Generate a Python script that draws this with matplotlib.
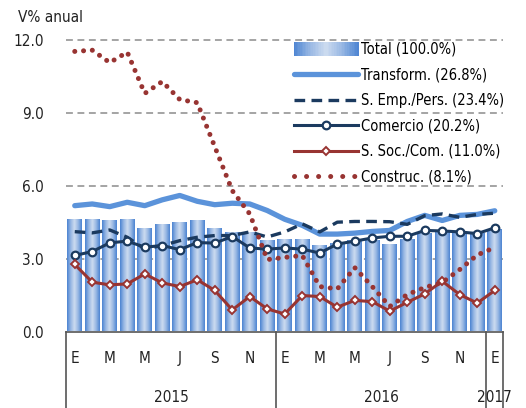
import numpy as np
import matplotlib.pyplot as plt
from matplotlib.colors import LinearSegmentedColormap
from matplotlib.lines import Line2D
from matplotlib.patches import Patch, Rectangle
from matplotlib.legend_handler import HandlerBase

plt.rcParams['font.family'] = ['DejaVu Sans']
plt.rcParams['font.stretch'] = 'condensed'

# ---- data (V% anual, Ene 2015 - Ene 2017) ----
month_labels = ['E', '', 'M', '', 'M', '', 'J', '', 'S', '', 'N', ''] * 2 + ['E']
years = ['2015', '2016', '2017']

total = [4.57, 4.57, 4.53, 4.57, 4.20, 4.40, 4.46, 4.53, 4.24, 4.06, 4.05, 3.74,
         3.78, 3.78, 3.54, 3.60, 3.74, 3.72, 3.56, 3.78, 4.01, 4.08, 4.07, 4.01, 4.16]
transform = [5.18, 5.25, 5.14, 5.32, 5.18, 5.42, 5.60, 5.36, 5.22, 5.28, 5.25, 4.98,
             4.62, 4.37, 4.01, 4.01, 4.05, 4.12, 4.16, 4.53, 4.78, 4.57, 4.78, 4.82, 4.97]
s_emp = [4.11, 4.06, 4.18, 3.88, 3.40, 3.54, 3.74, 3.88, 3.95, 3.95, 4.10, 3.89,
         4.10, 4.43, 4.10, 4.50, 4.53, 4.53, 4.52, 4.41, 4.77, 4.84, 4.70, 4.82, 4.87]
comercio = [3.13, 3.29, 3.65, 3.72, 3.47, 3.54, 3.37, 3.66, 3.64, 3.91, 3.44, 3.39,
            3.44, 3.39, 3.23, 3.60, 3.72, 3.85, 3.92, 3.92, 4.16, 4.14, 4.10, 4.03, 4.27]
s_soc = [2.76, 2.03, 1.92, 1.96, 2.37, 2.00, 1.85, 2.13, 1.69, 0.89, 1.44, 0.93,
         0.72, 1.48, 1.44, 1.00, 1.28, 1.23, 0.84, 1.20, 1.55, 2.07, 1.52, 1.17, 1.69]
construc = [11.53, 11.58, 11.07, 11.50, 9.80, 10.29, 9.55, 9.42, 7.61, 5.80, 4.84, 2.96,
            3.05, 3.13, 1.85, 1.75, 2.63, 1.85, 1.03, 1.52, 1.81, 2.02, 2.55, 3.15, 3.46]

labels = ['Total (100.0%)', 'Transform. (26.8%)', 'S. Emp./Pers. (23.4%)',
          'Comercio (20.2%)', 'S. Soc./Com. (11.0%)', 'Construc. (8.1%)']

x = np.arange(len(total))

navy = '#1b3a5f'
red = '#983432'
lblue = '#5b93da'
txt = '#222222'
bar_cmap = LinearSegmentedColormap.from_list(
    'bar', ['#4c84d2', '#97b7e3', '#cddcf0', '#97b7e3', '#4c84d2'])

fig = plt.figure(figsize=(5.26, 4.08), dpi=100)
ax = fig.add_axes([66 / 526, 76.5 / 408, 437.5 / 526, 291.5 * 12.1 / 12 / 408])

# gridlines
for yv in [3, 6, 9, 12]:
    ax.axhline(yv, color='#8c8c8c', lw=1.1, dashes=(4.5, 3), zorder=0)

# gradient bars
bars = ax.bar(x, total, width=0.83, color='none', edgecolor='none', zorder=1)
grad = np.linspace(0, 1, 64).reshape(1, -1)
for b in bars:
    x0, w, h = b.get_x(), b.get_width(), b.get_height()
    ax.imshow(grad, cmap=bar_cmap, aspect='auto', extent=(x0, x0 + w, 0, h),
              zorder=1, interpolation='bilinear')

ax.plot(x, transform, color=lblue, lw=3.8, solid_capstyle='round',
        solid_joinstyle='round', zorder=2)
ax.plot(x, s_emp, color=navy, lw=2.4, dashes=(3.2, 1.9), zorder=3)
ax.plot(x, comercio, color=navy, lw=2.2, marker='o', ms=5.5, mfc='white',
        mec=navy, mew=1.6, zorder=4)
ax.plot(x, s_soc, color=red, lw=2.2, marker='D', ms=4.2, mfc='white',
        mec=red, mew=1.4, zorder=4)
ax.plot(x, construc, color=red, lw=3.6, linestyle=(0, (0.01, 1.75)),
        dash_capstyle='round', zorder=5)

ax.set_xlim(-0.5, len(total) - 0.5)
ax.set_ylim(0, 12.1)
ax.set_yticks([0, 3, 6, 9, 12])
ax.set_yticklabels(['0.0', '3.0', '6.0', '9.0', '12.0'], fontsize=11, color=txt)
ax.tick_params(axis='y', length=0, pad=16)
ax.set_xticks([])
for s in ['top', 'right', 'left']:
    ax.spines[s].set_visible(False)
ax.spines['bottom'].set_color('#555555')
ax.spines['bottom'].set_linewidth(1.2)

# category box below the axis
trans = ax.get_xaxis_transform()
for xv in [-0.5, 11.5, 23.5, 24.5]:
    ax.plot([xv, xv], [0, -0.3], color='#555555', lw=1.2, transform=trans,
            clip_on=False)
for i, m in enumerate(month_labels):
    if m:
        ax.text(i, -0.092, m, transform=trans, ha='center', va='center',
                fontsize=11, color=txt)
for xv, yr in zip([5.5, 17.5, 24], years):
    ax.text(xv, -0.225, yr, transform=trans, ha='center', va='center',
            fontsize=11, color=txt)

fig.text(18 / 526, 1 - 17 / 408, 'V% anual', ha='left', va='center',
         fontsize=11, color=txt)


class GradientHandler(HandlerBase):
    def create_artists(self, legend, orig_handle, xdescent, ydescent,
                       width, height, fontsize, trans):
        n = 40
        h = height * 1.3
        y0 = -ydescent - (h - height) / 2
        out = []
        for i in range(n):
            out.append(Rectangle((-xdescent + i * width / n, y0), width / n * 1.1, h,
                                 facecolor=bar_cmap((i + 0.5) / n), edgecolor='none',
                                 transform=trans))
        return out


handles = [
    Patch(facecolor='#8fb0e0'),
    Line2D([], [], color=lblue, lw=3.8, solid_capstyle='round'),
    Line2D([], [], color=navy, lw=2.4, dashes=(3.2, 1.9)),
    Line2D([], [], color=navy, lw=2.2, marker='o', ms=5.5, mfc='white', mec=navy, mew=1.6),
    Line2D([], [], color=red, lw=2.2, marker='D', ms=4.2, mfc='white', mec=red, mew=1.4),
    Line2D([], [], color=red, lw=3.6, linestyle=(0, (0.01, 2.4)), dash_capstyle='round'),
]
ax.legend(handles, labels, loc='upper left', bbox_to_anchor=(0.52, 0.985),
          frameon=False, fontsize=10.5, handlelength=4.45, handletextpad=0.2,
          labelspacing=0.72, borderpad=0, borderaxespad=0,
          handler_map={Patch: GradientHandler()})

plt.savefig('out.png', dpi=100)
plt.close()
